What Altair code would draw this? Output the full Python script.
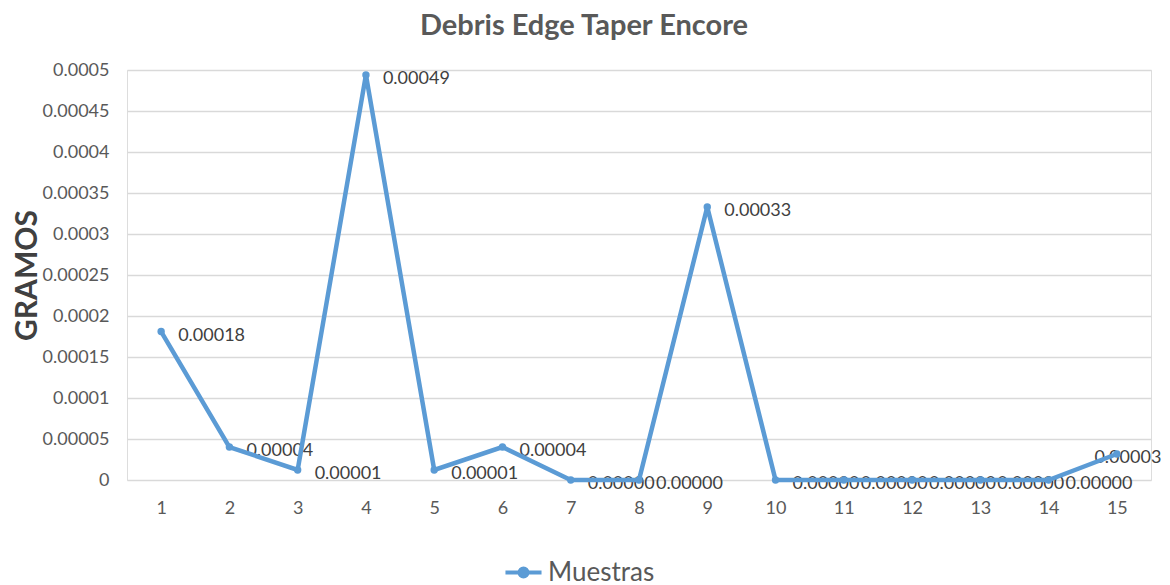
import altair as alt
import pandas as pd

muestras = list(range(1, 16))
gramos = [0.000181, 0.0000402, 0.0000122, 0.000494, 0.0000122, 0.0000402, 0.0, 0.0,
          0.000333, 0.0, 0.0, 0.0, 0.0, 0.0, 0.0000317]
y_ticks = [0, 0.00005, 0.0001, 0.00015, 0.0002, 0.00025, 0.0003, 0.00035, 0.0004, 0.00045, 0.0005]
serie = "Muestras"

df = pd.DataFrame({"m": muestras, "g": gramos, "s": [serie] * len(muestras)})

FONT = "Lato"
BLUE = "#5B9BD5"
GREY = "#595959"

x = alt.X("m:O", title=None, sort=muestras,
          scale=alt.Scale(padding=0.5),
          axis=alt.Axis(labelAngle=0, labelFontSize=18, labelColor=GREY, labelFont=FONT,
                        ticks=False, domain=False, grid=False, labelPadding=28,
                        labelBaseline="middle", labelAlign="center"))
y = alt.Y("g:Q", title="GRAMOS",
          scale=alt.Scale(domain=[0, 0.0005], nice=False, zero=True),
          axis=alt.Axis(values=y_ticks, format=".5~f", labelFontSize=18, labelColor=GREY,
                        labelFont=FONT, ticks=False, domain=False, gridColor="#D9D9D9",
                        gridWidth=1.3, labelPadding=18, titleFont=FONT, titleFontSize=30,
                        titleFontWeight="bold", titleColor="#404040", titleAngle=-90,
                        titleX=-100, titleY=205, titleAlign="center", titleBaseline="middle"))

color = alt.Color("s:N", scale=alt.Scale(range=[BLUE]), title=None,
                  legend=alt.Legend(orient="none", legendX=376, legendY=482,
                                    symbolType="M-1,0L1,0M0.22,0A0.22,0.22,0,1,1,-0.22,0A0.22,0.22,0,1,1,0.22,0Z",
                                    symbolSize=1300, symbolStrokeWidth=4,
                                    symbolFillColor=BLUE, symbolStrokeColor=BLUE,
                                    labelFontSize=26, labelColor=GREY, labelFont=FONT,
                                    labelOffset=4))

base = alt.Chart(df)

line = base.mark_line(strokeWidth=4.5, point=alt.OverlayMarkDef(size=55, filled=True, color=BLUE)).encode(
    x=x, y=y, color=color)

labels = base.transform_filter(alt.datum.m < 15).mark_text(
    align="left", baseline="middle", dx=17, dy=4, fontSize=18, font=FONT, color="#404040"
).encode(x=alt.X("m:O", sort=muestras), y="g:Q", text=alt.Text("g:Q", format=".5f"))

label_last = base.transform_filter(alt.datum.m == 15).mark_text(
    align="center", baseline="middle", dx=11, dy=4, fontSize=18, font=FONT, color="#404040"
).encode(x=alt.X("m:O", sort=muestras), y="g:Q", text=alt.Text("g:Q", format=".5f"))

chart = alt.layer(labels, label_last, line).properties(
    width=1024, height=410,
    title=alt.TitleParams("Debris Edge Taper Encore", font=FONT, fontSize=29, fontWeight="bold",
                          color=GREY, anchor="middle", dx=-55, offset=20),
    autosize=alt.AutoSizeParams(type="none"),
    padding={"left": 119, "top": 62, "right": 11, "bottom": 105},
).configure_view(stroke=None).configure(background="white")

chart.save("out.html", embed_options={"renderer": "svg", "actions": False})
